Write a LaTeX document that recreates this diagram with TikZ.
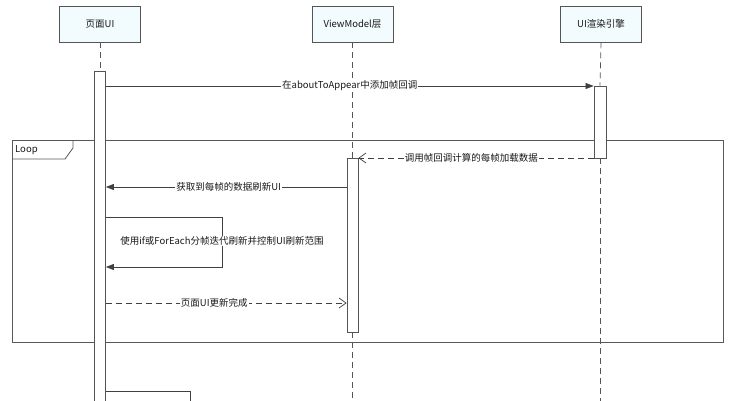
\documentclass[tikz,border=0pt]{standalone}
\usepackage{fontspec}
\setmainfont{Noto Sans CJK SC}
\usetikzlibrary{arrows.meta}
\definecolor{headfill}{HTML}{F2FBFD}
\definecolor{lncol}{HTML}{555555}
\begin{document}
\begin{tikzpicture}[x=1pt,y=-1pt,
  txt/.style={font=\fontsize{9.5}{11}\selectfont, text=black!90},
  head/.style={draw=lncol, fill=headfill, line width=0.8pt, minimum width=81pt, minimum height=36pt, inner sep=0pt, txt},
  life/.style={draw=lncol, dash pattern=on 6pt off 4pt, line width=0.7pt},
  act/.style={draw=lncol, fill=white, line width=0.8pt, inner sep=0pt},
  msg/.style={draw=black!75, line width=0.7pt, -{Triangle[length=8pt,width=6pt]}},
  ret/.style={draw=black!75, line width=0.7pt, dash pattern=on 6pt off 4pt, -{Straight Barb[length=7pt,width=10pt]}},
  selfm/.style={draw=black!75, line width=0.7pt},
  lbl/.style={fill=white, inner sep=1pt, txt},
  frame/.style={draw=black!65, line width=0.8pt}
]
\useasboundingbox (0,0) rectangle (735,400);
\fill[white] (0,0) rectangle (735,400);

% loop frame
\node[frame, minimum width=711pt, minimum height=202pt, inner sep=0pt] (loop) at (367.5,241) {};
\coordinate (t1) at (12,159);
\coordinate (t2) at (65,159);
\coordinate (t3) at (73,148);
\coordinate (t4) at (73,140);
\draw[frame] (t1) -- (t2) -- (t3) -- (t4);
\node[txt, anchor=west, inner sep=0pt] (looplbl) at (15,150) {Loop};

% headers
\node[head] (hA) at (100,24) {页面UI};
\node[head] (hB) at (352.5,24) {ViewModel层};
\node[head] (hC) at (601,24) {UI渲染引擎};

% activation bars
\node[act, minimum width=11pt, minimum height=332pt] (aA) at (100,237) {};
\node[act, minimum width=11pt, minimum height=174pt] (aB) at (352.5,245) {};
\node[act, minimum width=12pt, minimum height=72pt] (aC) at (600,122) {};

\coordinate (endB) at (352.5,404);
\coordinate (endC) at (600,404);

% lifelines
\draw[life] (hA.south) -- (aA.north);
\draw[life] (hB.south) -- (aB.north);
\draw[life] (aB.south) -- (endB);
\draw[life] (hC.south) -- (aC.north);
\draw[life] (aC.south) -- (endC);

% message rows
\coordinate (r1) at (0,86);
\coordinate (r2) at (0,158);
\coordinate (r3) at (0,187);
\coordinate (r4) at (0,217);
\coordinate (r5) at (0,267);
\coordinate (r6) at (0,303);
\coordinate (r7) at (0,391);
\coordinate (s1) at (222,217);
\coordinate (s2) at (222,267);
\coordinate (s3) at (190,391);
\coordinate (s4) at (190,404);

\draw[msg] (aA.east |- r1) -- node[lbl, pos=0.5]{在aboutToAppear中添加帧回调} (aC.west |- r1);
\draw[ret] (aC.west |- r2) -- node[lbl, pos=0.52]{调用帧回调计算的每帧加载数据} (aB.east |- r2);
\draw[msg] (aB.west |- r3) -- node[lbl, pos=0.49]{获取到每帧的数据刷新UI} (aA.east |- r3);
\draw[msg] (aA.east |- r4) -- (s1) -- (s2) -- (aA.east |- r5);
\node[lbl] (selflbl) at (222,241) {使用if或ForEach分帧迭代刷新并控制UI刷新范围};
\draw[ret] (aA.east |- r6) -- node[lbl, pos=0.45]{页面UI更新完成} (aB.west |- r6);
\draw[selfm] (aA.east |- r7) -- (s3) -- (s4);
\end{tikzpicture}
\end{document}
